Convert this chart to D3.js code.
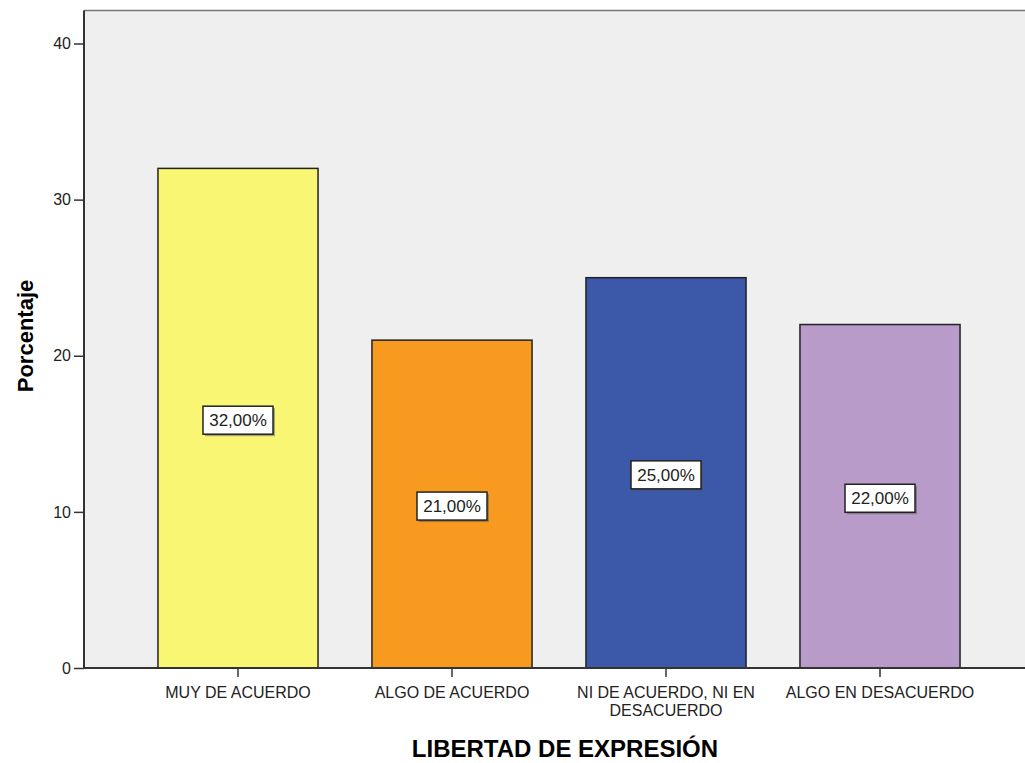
<!DOCTYPE html>
<html>
<head>
<meta charset="utf-8">
<script src="https://d3js.org/d3.v7.min.js"></script>
<style>
  body { margin: 0; background: #fff; font-family: "Liberation Sans", Arial, sans-serif; }
</style>
</head>
<body>
<svg id="chart" width="1025" height="763"></svg>
<script>
// Data: LIBERTAD DE EXPRESIÓN, porcentaje
var categories = ["MUY DE ACUERDO", "ALGO DE ACUERDO", "NI DE ACUERDO, NI EN DESACUERDO", "ALGO EN DESACUERDO"];
var catLines = [["MUY DE ACUERDO"], ["ALGO DE ACUERDO"], ["NI DE ACUERDO, NI EN", "DESACUERDO"], ["ALGO EN DESACUERDO"]];
var percentages = [32, 21, 25, 22];
var barLabels = ["32,00%", "21,00%", "25,00%", "22,00%"];
var yTicks = [0, 10, 20, 30, 40];
var colors = ["#f9f674", "#f89a1f", "#3c58a8", "#b89bc8"];

var svg = d3.select("#chart");
var plotLeft = 84, plotTop = 10.5, plotBottom = 668, plotRight = 1030;

var y = d3.scaleLinear().domain([0, 40]).range([plotBottom, 43.5]);
var x = d3.scaleBand().domain(categories).range([131, 987])
  .paddingInner(0.252).paddingOuter(0.126);

// plot background
svg.append("rect")
  .attr("x", plotLeft).attr("y", plotTop)
  .attr("width", plotRight - plotLeft).attr("height", plotBottom - plotTop)
  .attr("fill", "#efefef");
svg.append("line")
  .attr("x1", plotLeft).attr("x2", plotRight)
  .attr("y1", plotTop).attr("y2", plotTop)
  .attr("stroke", "#777").attr("stroke-width", 1.5);

// bars
var bars = svg.append("g");
bars.selectAll("rect").data(percentages).enter().append("rect")
  .attr("x", function(d, i) { return x(categories[i]); })
  .attr("y", function(d) { return y(d); })
  .attr("width", x.bandwidth())
  .attr("height", function(d) { return plotBottom - y(d); })
  .attr("fill", function(d, i) { return colors[i]; })
  .attr("stroke", "#222")
  .attr("stroke-width", 1.5);

// y axis
var yAxis = svg.append("g")
  .attr("transform", "translate(" + plotLeft + ",0)")
  .call(d3.axisLeft(y).tickValues(yTicks).tickSize(10).tickPadding(3));
yAxis.select(".domain").attr("d", "M0," + plotTop + "V" + plotBottom).attr("stroke", "#333").attr("stroke-width", 2);
yAxis.selectAll(".tick line").attr("stroke", "#333").attr("stroke-width", 1.5);
yAxis.selectAll(".tick text").attr("font-size", "16px").attr("fill", "#222")
  .attr("font-family", "'Liberation Sans', Arial, sans-serif");

// x axis
var xAxis = svg.append("g")
  .attr("transform", "translate(0," + plotBottom + ")")
  .call(d3.axisBottom(x).tickSize(9).tickFormat(""));
xAxis.select(".domain").attr("d", "M" + plotLeft + ",0H" + plotRight).attr("stroke", "#333").attr("stroke-width", 2);
xAxis.selectAll(".tick line").attr("stroke", "#333").attr("stroke-width", 1.5);
xAxis.selectAll(".tick").each(function(d, i) {
  var t = d3.select(this).append("text")
    .attr("fill", "#222").attr("font-size", "16px")
    .attr("font-family", "'Liberation Sans', Arial, sans-serif")
    .attr("text-anchor", "middle");
  catLines[i].forEach(function(line, j) {
    t.append("tspan").attr("x", 0).attr("y", 30 + j * 18).text(line);
  });
});

// value labels
var labels = svg.append("g");
percentages.forEach(function(d, i) {
  var cx = x(categories[i]) + x.bandwidth() / 2;
  var cy = y(d / 2);
  var g = labels.append("g").attr("transform", "translate(" + cx + "," + cy + ")");
  g.append("rect").attr("x", -33).attr("y", -10).attr("width", 70).attr("height", 28)
    .attr("fill", "#555").attr("opacity", 0.5);
  g.append("rect").attr("x", -35).attr("y", -12).attr("width", 70).attr("height", 28)
    .attr("fill", "#fff").attr("stroke", "#222").attr("stroke-width", 1.5);
  g.append("text").attr("text-anchor", "middle").attr("y", 8)
    .attr("font-size", "17px").attr("fill", "#222")
    .attr("font-family", "'Liberation Sans', Arial, sans-serif")
    .text(barLabels[i]);
});

// axis titles
svg.append("text")
  .attr("transform", "translate(33,336) rotate(-90)")
  .attr("text-anchor", "middle")
  .attr("font-weight", "bold").attr("font-size", "22px")
  .text("Porcentaje");
svg.append("text")
  .attr("x", 565).attr("y", 757)
  .attr("text-anchor", "middle")
  .attr("font-weight", "bold").attr("font-size", "24px")
  .text("LIBERTAD DE EXPRESIÓN");
</script>
</body>
</html>
